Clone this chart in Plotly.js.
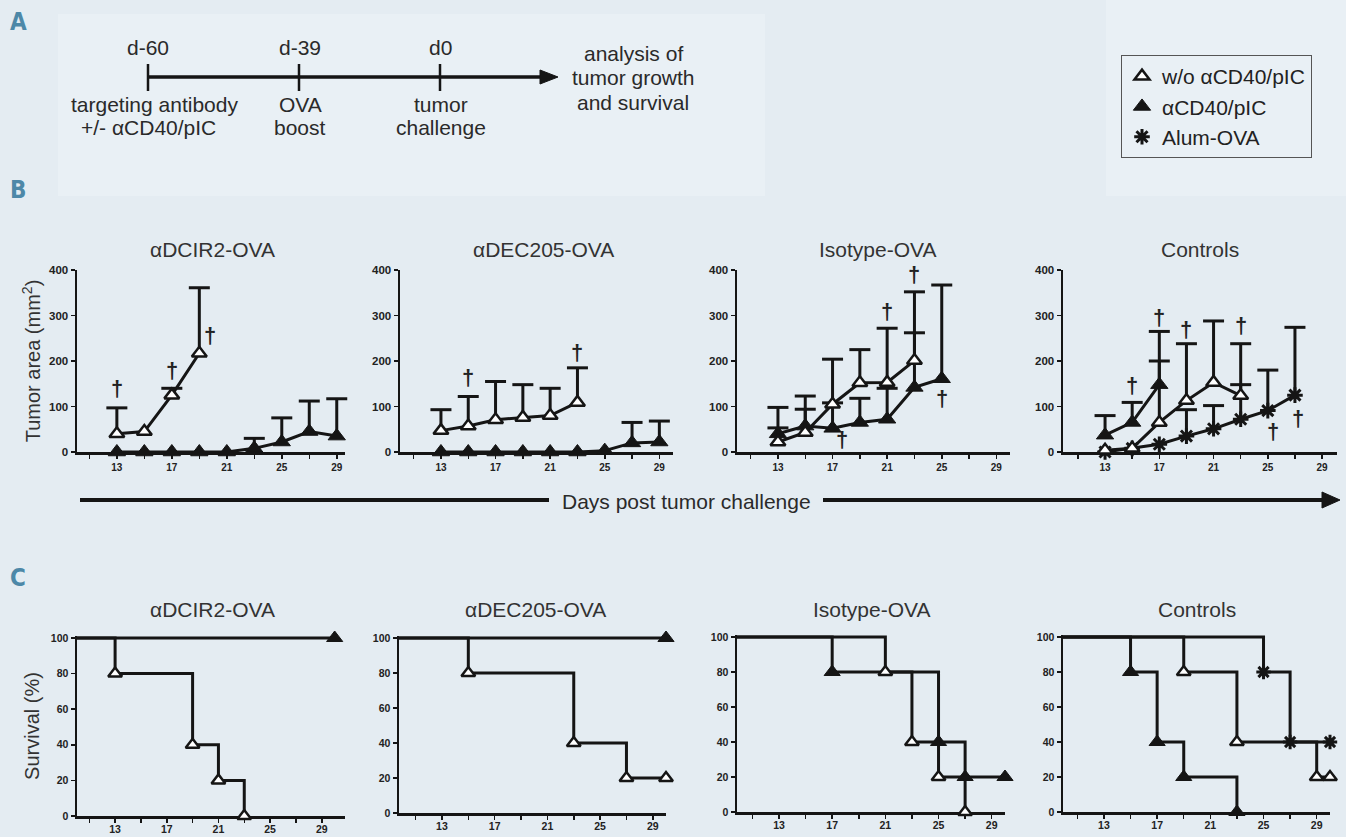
<!DOCTYPE html>
<html><head><meta charset="utf-8">
<script src="https://cdn.plot.ly/plotly-3.0.1.min.js"></script>
<style>html,body{margin:0;padding:0;background:#e4ecf2;} #chart{width:1346px;height:837px;}</style>
</head><body><div id="chart"></div>
<script>
// ---------------- DATA ----------------
const xTickVals = [13,17,21,25,29];
const xTickText = ['13','17','21','25','29'];
const xMinorStart = 11, xMinorStep = 2;
const bYTicks = [0,100,200,300,400];
const cYTicks = [0,20,40,60,80,100];
const panelTitles = ['αDCIR2-OVA','αDEC205-OVA','Isotype-OVA','Controls'];
const legendNames = ['w/o αCD40/pIC','αCD40/pIC','Alum-OVA'];

// B: tumor area (mean, upper SD)
const dcir2WoDays = [13,15,17,19];
const dcir2WoMean = [40,45,125,217];
const dcir2WoSD   = [57,null,15,144];
const dcir2CdDays = [13,15,17,19,21,23,25,27,29];
const dcir2CdMean = [0,0,0,0,0,8,22,45,35];
const dcir2CdSD   = [null,null,null,null,null,22,53,67,82];

const dec205WoDays = [13,15,17,19,21,23];
const dec205WoMean = [47,57,71,76,80,109];
const dec205WoSD   = [46,65,84,72,60,76];
const dec205CdDays = [13,15,17,19,21,23,25,27,29];
const dec205CdMean = [0,0,0,0,0,0,3,20,22];
const dec205CdSD   = [null,null,null,null,null,null,null,45,46];

const isoWoDays = [13,15,17,19,21,23];
const isoWoMean = [22,43,105,152,153,201];
const isoWoSD   = [31,51,99,73,119,151];
const isoCdDays = [13,15,17,19,21,23,25];
const isoCdMean = [40,57,52,65,72,142,161];
const isoCdSD   = [58,66,56,53,68,120,206];

const ctrlWoDays = [13,15,17,19,21,23];
const ctrlWoMean = [4,8,65,113,153,124];
const ctrlWoSD   = [null,null,135,125,135,114];
const ctrlCdDays = [13,15,17];
const ctrlCdMean = [37,65,148];
const ctrlCdSD   = [43,44,117];
const ctrlAlumDays = [13,15,17,19,21,23,25,27];
const ctrlAlumMean = [0,8,17,35,51,72,91,125];
const ctrlAlumSD   = [null,null,null,58,51,76,89,149];

// B: death markers (†)
const dagDays1 = [13,17,19.8];            const dagY1 = [140,180,257];
const dagDays2 = [15,23];                 const dagY2 = [164,219];
const dagDays3 = [17.7,21,23,25];         const dagY3 = [28,308,389,117];
const dagDays4 = [15,17,19,23,25.4,27.2]; const dagY4 = [147,295,270,278,46,73];

// C: survival (%)
const sDcir2WoDays = [0,13,19,21,23];  const sDcir2WoSurv = [100,80,40,20,0];
const sDcir2CdDays = [0,30];           const sDcir2CdSurv = [100,100];
const sDec205WoDays = [0,15,23,27,30]; const sDec205WoSurv = [100,80,40,20,20];
const sDec205CdDays = [0,30];          const sDec205CdSurv = [100,100];
const sIsoWoDays = [0,21,23,25,27];    const sIsoWoSurv = [100,80,40,20,0];
const sIsoCdDays = [0,17,25,27,30];    const sIsoCdSurv = [100,80,40,20,20];
const sCtrlCdDays = [0,15,17,19,23];   const sCtrlCdSurv = [100,80,40,20,0];
const sCtrlWoDays = [0,19,23,29,30];   const sCtrlWoSurv = [100,80,40,20,20];
const sCtrlAlumDays = [0,25,27,30];    const sCtrlAlumSurv = [100,80,40,40];

// ---------------- HELPERS ----------------
const W = 1346, H = 837;
const PX = x => x / W;
const PY = y => 1 - y / H;
const INK = '#151515';
const FONT = 'Liberation Sans, Arial, sans-serif';
const NARROW = 'Liberation Sans Narrow, Liberation Sans, Arial, sans-serif';

function markerStyle(kind, size) {
  if (kind === 'wo') return {symbol:'triangle-up', size:size, color:'#ffffff', opacity:1, line:{color:INK, width:2.5}};
  if (kind === 'cd') return {symbol:'triangle-up', size:size+2, color:INK, opacity:1, line:{color:INK, width:1}};
  return {symbol:'asterisk-open', size:size, color:INK, opacity:1, line:{color:INK, width:3}};
}
function ax(n, letter) { return letter + (n === 1 ? '' : n); }

const traces = [];
function growth(n, days, mean, sd, kind) {
  const capX = [], capY = [], capLen = [];
  days.forEach((d,i)=>{ if (sd[i] != null) { capX.push(d); capY.push(mean[i] + sd[i]); capLen.push(sd[i]); } });
  // upper error bar: cap marker at mean+SD, bar drawn downward to the mean
  traces.push({
    type:'scatter', mode:'markers', x:capX, y:capY,
    xaxis:ax(n,'x'), yaxis:ax(n,'y'), cliponaxis:false, showlegend:false, hoverinfo:'skip',
    marker:{symbol:'line-ew', size:15, color:INK, opacity:1, line:{color:INK, width:3}},
    error_y:{type:'data', symmetric:false, array:capLen.map(()=>0), arrayminus:capLen,
             color:INK, thickness:3, width:0}
  });
  traces.push({
    type:'scatter', mode:'lines+markers', x:days, y:mean,
    xaxis:ax(n,'x'), yaxis:ax(n,'y'), cliponaxis:false, showlegend:false, hoverinfo:'skip',
    line:{color:INK, width:3}, marker:markerStyle(kind, 13)
  });
}
function survival(n, days, surv, kind) {
  const m = markerStyle(kind, 12);
  const base = m.size;
  m.size = days.map((d,i)=> i===0 ? 0 : base);
  m.opacity = 1;
  traces.push({
    type:'scatter', mode:'lines+markers', x:days, y:surv, line:{shape:'hv', color:INK, width:3},
    xaxis:ax(n,'x'), yaxis:ax(n,'y'), cliponaxis:false, showlegend:false, hoverinfo:'skip',
    marker:m
  });
}

growth(1, dcir2CdDays, dcir2CdMean, dcir2CdSD, 'cd');
growth(1, dcir2WoDays, dcir2WoMean, dcir2WoSD, 'wo');
growth(2, dec205CdDays, dec205CdMean, dec205CdSD, 'cd');
growth(2, dec205WoDays, dec205WoMean, dec205WoSD, 'wo');
growth(3, isoCdDays, isoCdMean, isoCdSD, 'cd');
growth(3, isoWoDays, isoWoMean, isoWoSD, 'wo');
growth(4, ctrlAlumDays, ctrlAlumMean, ctrlAlumSD, 'alum');
growth(4, ctrlCdDays, ctrlCdMean, ctrlCdSD, 'cd');
growth(4, ctrlWoDays, ctrlWoMean, ctrlWoSD, 'wo');

survival(5, sDcir2CdDays, sDcir2CdSurv, 'cd');
survival(5, sDcir2WoDays, sDcir2WoSurv, 'wo');
survival(6, sDec205CdDays, sDec205CdSurv, 'cd');
survival(6, sDec205WoDays, sDec205WoSurv, 'wo');
survival(7, sIsoCdDays, sIsoCdSurv, 'cd');
survival(7, sIsoWoDays, sIsoWoSurv, 'wo');
survival(8, sCtrlCdDays, sCtrlCdSurv, 'cd');
survival(8, sCtrlAlumDays, sCtrlAlumSurv, 'alum');
survival(8, sCtrlWoDays, sCtrlWoSurv, 'wo');

// legend-only traces
['wo','cd','alum'].forEach((k,i)=>{
  traces.push({type:'scatter', mode:'markers', x:[null], y:[null], name:legendNames[i],
    marker:markerStyle(k, 13), showlegend:true, hoverinfo:'skip'});
});

// ---------------- AXES ----------------
const layout = {
  width:W, height:H, margin:{l:0,r:0,t:0,b:0},
  paper_bgcolor:'#e4ecf2', plot_bgcolor:'rgba(0,0,0,0)',
  showlegend:true, hovermode:false,
  legend:{x:PX(1121), y:PY(55), xanchor:'left', yanchor:'top', bgcolor:'rgba(0,0,0,0)',
          bordercolor:'#555', borderwidth:1, font:{family:FONT, size:21, color:'#222'},
          itemwidth:30, tracegroupgap:0},
  shapes:[], annotations:[]
};

const bX = [[77,345,10.1,29.6],[400,673,10,30],[737,1010,10,30],[1063,1337,9.9,30.1]];
const cX = [[77,345,10.05,30.8],[399,666,9.74,30],[737,1005,9.84,30],[1063,1330,9.92,30]];
const cY = [[638,816],[638,813],[637,812],[637,812]];

function xAxis(px0, px1, r0, r1, anchor, size, standoff) {
  return {domain:[PX(px0),PX(px1)], range:[r0,r1], anchor:anchor, tickmode:'array',
    tickvals:xTickVals, ticktext:xTickText, ticks:'outside', ticklen:4, tickwidth:1.5, tickcolor:INK,
    minor:{tickmode:'linear', tick0:xMinorStart, dtick:xMinorStep, ticks:'outside', ticklen:4, tickwidth:1.5, tickcolor:INK, showgrid:false},
    ticklabelstandoff:standoff,
    showline:true, linewidth:2.5, linecolor:INK, showgrid:false, zeroline:false, layer:'below traces',
    tickfont:{family:NARROW, size:size, color:'#222', weight:700}, fixedrange:true};
}
function yAxis(py0, py1, r, tv, anchor, size) {
  return {domain:[PY(py0),PY(py1)], range:r, anchor:anchor, tickmode:'array', tickvals:tv,
    ticks:'outside', ticklen:4, tickwidth:1.5, tickcolor:INK,
    showline:true, linewidth:2.5, linecolor:INK, showgrid:false, zeroline:false, layer:'below traces',
    tickfont:{family:FONT, size:size, color:'#222', weight:700}, fixedrange:true};
}
for (let i=0;i<4;i++){
  const n=i+1, b=bX[i];
  layout[ax(n,'xaxis')] = xAxis(b[0],b[1],b[2],b[3], ax(n,'y'), 10, 0);
  layout[ax(n,'yaxis')] = yAxis(452,270,[0,400],bYTicks, ax(n,'x'), 11.5);
  const m=i+5, c=cX[i], cy=cY[i];
  layout[ax(m,'xaxis')] = xAxis(c[0],c[1],c[2],c[3], ax(m,'y'), 10.5, -2);
  layout[ax(m,'yaxis')] = yAxis(cy[1],cy[0]-2,[0,100*(cy[1]-cy[0]+2)/(cy[1]-cy[0])],cYTicks, ax(m,'x'), 10.5);
}
layout.yaxis.title = {text:'Tumor area (mm<sup>2</sup>)', font:{family:FONT, size:20, color:'#333'}, standoff:3};
layout.yaxis5.title = {text:'Survival (%)', font:{family:FONT, size:20, color:'#333'}, standoff:6};

// panel titles
const bTitleX = [212,543,878,1200], cTitleX = [212,535,872,1197];
panelTitles.forEach((t,i)=>{
  layout.annotations.push({xref:'paper',yref:'paper',x:PX(bTitleX[i]),y:PY(249),text:t,showarrow:false,
    xanchor:'center',yanchor:'middle',font:{family:FONT,size:21,color:'#333'}});
  layout.annotations.push({xref:'paper',yref:'paper',x:PX(cTitleX[i]),y:PY(609),text:t,showarrow:false,
    xanchor:'center',yanchor:'middle',font:{family:FONT,size:21,color:'#333'}});
});

// daggers
[[dagDays1,dagY1],[dagDays2,dagY2],[dagDays3,dagY3],[dagDays4,dagY4]].forEach((d,i)=>{
  d[0].forEach((x,j)=>{
    layout.annotations.push({xref:ax(i+1,'x'), yref:ax(i+1,'y'), x:x, y:d[1][j], text:'†', showarrow:false,
      xanchor:'center', yanchor:'middle', font:{family:FONT, size:22, color:'#222', weight:700}});
  });
});

// panel letters
[['A',22],['B',190],['C',578]].forEach(p=>{
  layout.annotations.push({xref:'paper',yref:'paper',x:PX(18),y:PY(p[1]),text:p[0],showarrow:false,
    xanchor:'center',yanchor:'middle',font:{family:'DejaVu Sans Condensed, DejaVu Sans',size:24,color:'#4d88a8',weight:900}});
});

// panel A text
function txt(s, x, y, size) {
  layout.annotations.push({xref:'paper',yref:'paper',x:PX(x),y:PY(y),text:s,showarrow:false,
    xanchor:'center',yanchor:'middle',font:{family:FONT,size:size||21,color:'#2a2a2a'}});
}
txt('d-60',148,47); txt('d-39',300,47); txt('d0',440,47);
txt('targeting antibody',154,105); txt('+/- αCD40/pIC',148,128);
txt('OVA',300,105); txt('boost',300,128);
txt('tumor',441,105); txt('challenge',441,128);
txt('analysis of',633,54); txt('tumor growth',633,78); txt('and survival',633,102);
txt('Days post tumor challenge',686,501,21);

// shapes
function line(x0,y0,x1,y1,w){ layout.shapes.push({type:'line',xref:'paper',yref:'paper',x0:PX(x0),y0:PY(y0),x1:PX(x1),y1:PY(y1),line:{color:INK,width:w}}); }
function tri(x0,y0,x1,y1,x2,y2){ layout.shapes.push({type:'path',xref:'paper',yref:'paper',
  path:`M${PX(x0)},${PY(y0)} L${PX(x1)},${PY(y1)} L${PX(x2)},${PY(y2)} Z`, fillcolor:INK, line:{color:INK,width:1}}); }
layout.shapes.push({type:'rect',xref:'paper',yref:'paper',x0:PX(58),x1:PX(765),y0:PY(196),y1:PY(14),fillcolor:'#e9f0f5',line:{width:0},layer:'below'});
layout.shapes.push({type:'rect',xref:'paper',yref:'paper',x0:PX(1106),x1:PX(1346),y0:PY(196),y1:PY(0),fillcolor:'#e9f0f5',line:{width:0},layer:'below'});
line(148,77,543,77,3.5); tri(540,70,558,77,540,84);
line(148,64,148,91,2.5); line(299,64,299,91,2.5); line(440,64,440,91,2.5);
line(80,500,549,500,4); line(823,500,1326,500,4); tri(1322,492,1340,500,1322,508);

Plotly.newPlot('chart', traces, layout, {displayModeBar:false, staticPlot:true});
</script></body></html>
